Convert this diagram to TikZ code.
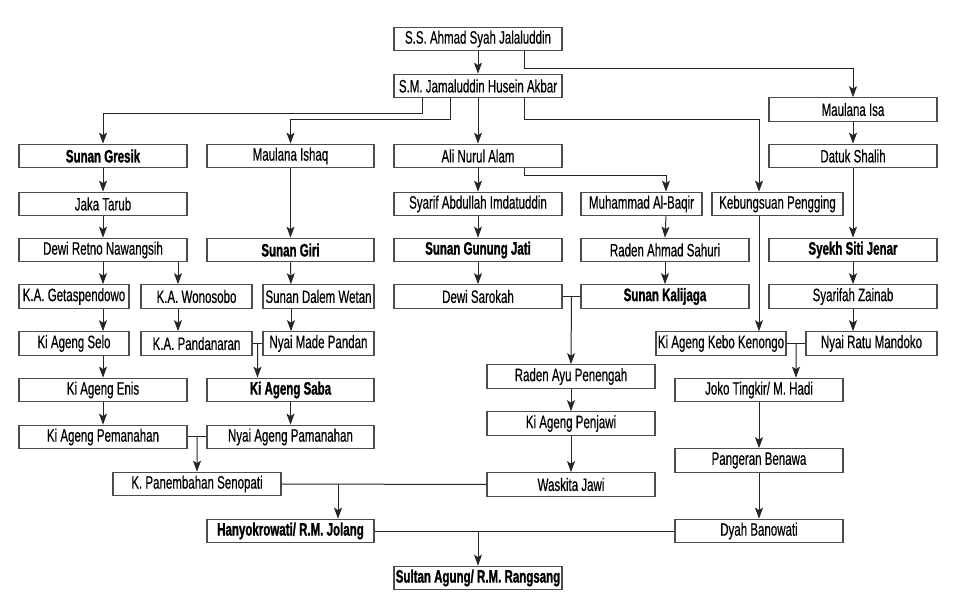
\documentclass[tikz,border=0pt]{standalone}
\usepackage{fontspec}
\setmainfont[FakeStretch=0.64,UprightFeatures={FakeBold=0.35},BoldFeatures={FakeBold=1.2}]{Liberation Sans}
\usetikzlibrary{arrows.meta,calc}
\begin{document}
\begin{tikzpicture}[x=1pt,y=-1pt,
  box/.style={draw=black!70,line width=1.2pt,fill=white,minimum height=23.5pt,inner sep=0pt,
    font=\fontsize{18}{20}\selectfont,text=black},
  bbox/.style={box,font=\fontsize{18}{20}\selectfont\bfseries},
  arr/.style={draw=black!85,line width=1pt,-{Stealth[length=11pt,width=8pt,inset=2.5pt]}},
  ln/.style={draw=black!85,line width=1pt}]
\useasboundingbox[fill=white] (0,0) rectangle (956,609);
% nodes
\node[box,minimum width=168pt] (ss) at (478,39) {S.S. Ahmad Syah Jalaluddin};
\node[box,minimum width=168pt] (sm) at (478,86) {S.M. Jamaluddin Husein Akbar};
\node[box,minimum width=168pt] (isa) at (853,109.5) {Maulana Isa};
\node[bbox,minimum width=168pt] (gresik) at (103,156) {Sunan Gresik};
\node[box,minimum width=167pt] (ishaq) at (290.5,156) {Maulana Ishaq};
\node[box,minimum width=168pt] (ali) at (478,156) {Ali Nurul Alam};
\node[box,minimum width=168pt] (datuk) at (853,156) {Datuk Shalih};
\node[box,minimum width=168pt] (jaka) at (103,204) {Jaka Tarub};
\node[box,minimum width=168pt] (syarif) at (478,204) {Syarif Abdullah Imdatuddin};
\node[box,minimum width=121pt] (baqir) at (641.5,204) {Muhammad Al-Baqir};
\node[box,minimum width=131pt] (kebung) at (777.5,204) {Kebungsuan Pengging};
\node[box,minimum width=168pt] (retno) at (103,250) {Dewi Retno Nawangsih};
\node[bbox,minimum width=167pt] (giri) at (290.5,250) {Sunan Giri};
\node[bbox,minimum width=168pt] (gunung) at (478,250) {Sunan Gunung Jati};
\node[box,minimum width=168pt] (sahuri) at (665,250) {Raden Ahmad Sahuri};
\node[bbox,minimum width=168pt] (jenar) at (853,250) {Syekh Siti Jenar};
\node[box,minimum width=110pt] (geta) at (74,296.5) {K.A. Getaspendowo};
\node[box,minimum width=111pt] (wono) at (196.5,296.5) {K.A. Wonosobo};
\node[box,minimum width=111pt] (dalem) at (318.5,296.5) {Sunan Dalem Wetan};
\node[box,minimum width=168pt] (sarokah) at (478,296.5) {Dewi Sarokah};
\node[bbox,minimum width=168pt] (kalijaga) at (665,296.5) {Sunan Kalijaga};
\node[box,minimum width=168pt] (zainab) at (853,296.5) {Syarifah Zainab};
\node[box,minimum width=110pt] (selo) at (74,343.5) {Ki Ageng Selo};
\node[box,minimum width=111pt] (pandanaran) at (196.5,343.5) {K.A. Pandanaran};
\node[box,minimum width=111pt] (nyaimade) at (318.5,343.5) {Nyai Made Pandan};
\node[box,minimum width=130pt] (kebo) at (721,343.5) {Ki Ageng Kebo Kenongo};
\node[box,minimum width=131pt] (mandoko) at (871.5,343.5) {Nyai Ratu Mandoko};
\node[box,minimum width=168pt] (penengah) at (571,376.5) {Raden Ayu Penengah};
\node[box,minimum width=168pt] (enis) at (103,390) {Ki Ageng Enis};
\node[bbox,minimum width=167pt] (saba) at (290.5,390) {Ki Ageng Saba};
\node[box,minimum width=168pt] (joko) at (759,390) {Joko Tingkir/ M. Hadi};
\node[box,minimum width=168pt] (penjawi) at (571,423.5) {Ki Ageng Penjawi};
\node[box,minimum width=168pt] (pemanahan) at (103,437) {Ki Ageng Pemanahan};
\node[box,minimum width=167pt] (nyaiageng) at (290.5,437) {Nyai Ageng Pamanahan};
\node[box,minimum width=168pt] (benawa) at (759,460.5) {Pangeran Benawa};
\node[box,minimum width=168pt] (senopati) at (197,484) {K. Panembahan Senopati};
\node[box,minimum width=168pt] (waskita) at (571,484.5) {Waskita Jawi};
\node[bbox,minimum width=167pt] (hanyo) at (290.5,531) {Hanyokrowati/ R.M. Jolang};
\node[box,minimum width=168pt] (dyah) at (759,531) {Dyah Banowati};
\node[bbox,minimum width=168pt] (sultan) at (478,578) {Sultan Agung/ R.M. Rangsang};
% connectors
\draw[arr] (ss.south) -- (sm.north);
\draw[arr] ([xshift=46]ss.south) -- ++(0,17) -| (isa.north);
\draw[arr] ([xshift=-56]sm.south) -- ++(0,15) -| (gresik.north);
\draw[arr] ([xshift=-28]sm.south) -- ++(0,21) -| (ishaq.north);
\draw[arr] (sm.south) -- (ali.north);
\draw[arr] ([xshift=46]sm.south) -- ++(0,21) -| ([xshift=-18.5]kebung.north);
\draw[arr] (isa.south) -- (datuk.north);
\draw[arr] (datuk.south) -- (jenar.north);
\draw[arr] (ali.south) -- (syarif.north);
\draw[arr] ([xshift=46]ali.south) -- ++(0,7) -| ([xshift=24.5]baqir.north);
\draw[arr] (gresik.south) -- (jaka.north);
\draw[arr] (jaka.south) -- (retno.north);
\draw[arr] (ishaq.south) -- (giri.north);
\draw[arr] (retno.south) -- ([xshift=29]geta.north);
\draw[arr] ([xshift=75]retno.south) -- ([xshift=-18.5]wono.north);
\draw[arr] (giri.south) -- ([xshift=-27.5]dalem.north);
\draw[arr] ([xshift=29]geta.south) -- ([xshift=29]selo.north);
\draw[arr] ([xshift=-18.5]wono.south) -- ([xshift=-18.5]pandanaran.north);
\draw[arr] ([xshift=-27.5]dalem.south) -- ([xshift=-27.5]nyaimade.north);
\draw[ln] (pandanaran.east) -- (nyaimade.west);
\draw[arr] ($(pandanaran.east)!0.5!(nyaimade.west)$) -- ([xshift=-33]saba.north);
\draw[arr] ([xshift=29]selo.south) -- (enis.north);
\draw[arr] (enis.south) -- (pemanahan.north);
\draw[arr] (saba.south) -- (nyaiageng.north);
\draw[ln] (pemanahan.east) -- (nyaiageng.west);
\draw[arr] ($(pemanahan.east)!0.5!(nyaiageng.west)$) -- (senopati.north);
\draw[arr] (syarif.south) -- (gunung.north);
\draw[arr] (gunung.south) -- (sarokah.north);
\draw[arr] ([xshift=24.5]baqir.south) -- (sahuri.north);
\draw[arr] (sahuri.south) -- (kalijaga.north);
\draw[ln] (sarokah.east) -- (kalijaga.west);
\draw[arr] ($(sarokah.east)!0.5!(kalijaga.west)$) -- (penengah.north);
\draw[arr] (penengah.south) -- (penjawi.north);
\draw[arr] (penjawi.south) -- (waskita.north);
\draw[arr] ([xshift=-18.5]kebung.south) -- ([xshift=38]kebo.north);
\draw[arr] (jenar.south) -- (zainab.north);
\draw[arr] (zainab.south) -- ([xshift=-18.5]mandoko.north);
\draw[ln] (kebo.east) -- (mandoko.west);
\draw[arr] ($(kebo.east)!0.5!(mandoko.west)$) -- ([xshift=37]joko.north);
\draw[arr] (joko.south) -- (benawa.north);
\draw[arr] (benawa.south) -- (dyah.north);
\draw[ln] (senopati.east) -- (waskita.west);
\coordinate (h1) at ([xshift=47.5]hanyo.north);
\draw[arr] (h1 |- senopati.east) -- (h1);
\draw[ln] (hanyo.east) -- (dyah.west);
\draw[arr] (sultan.north |- hanyo.east) -- (sultan.north);
\end{tikzpicture}
\end{document}
